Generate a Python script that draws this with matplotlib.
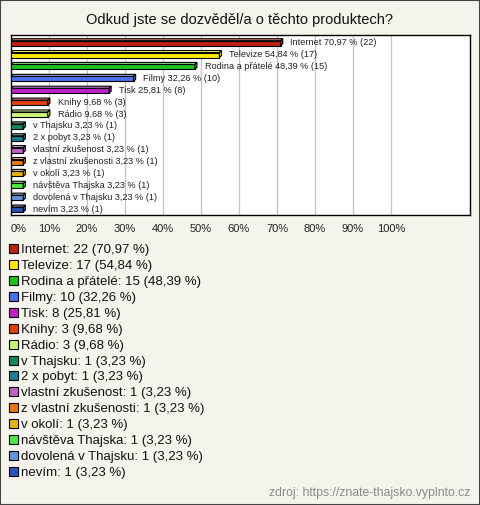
import numpy as np
import matplotlib
matplotlib.use('Agg')
import matplotlib.pyplot as plt
from matplotlib.patches import Polygon, Rectangle
from matplotlib.colors import to_rgb

categories = ['Internet', 'Televize', 'Rodina a přátelé', 'Filmy', 'Tisk', 'Knihy', 'Rádio',
              'v Thajsku', '2 x pobyt', 'vlastní zkušenost', 'z vlastní zkušenosti', 'v okolí',
              'návštěva Thajska', 'dovolená v Thajsku', 'nevím']
counts = [22, 17, 15, 10, 8, 3, 3, 1, 1, 1, 1, 1, 1, 1, 1]
percents = [70.97, 54.84, 48.39, 32.26, 25.81, 9.68, 9.68, 3.23, 3.23, 3.23, 3.23, 3.23, 3.23, 3.23, 3.23]
colors = ['#c0200f', '#ffe800', '#1ec21e', '#4a70f0', '#c020c8', '#e0400a', '#c8f87a',
          '#118a58', '#1a7f90', '#c060c8', '#e87810', '#e8b010', '#50e83c', '#6890e0', '#2e50b8']
tick_values = list(range(0, 101, 10))

W, H = 480, 505
BG = '#f4f3ec'

plt.rcParams['font.family'] = ['Liberation Sans', 'DejaVu Sans']


def fx(px):
    return px / W


def fy(py):
    return 1 - py / H


def fmt(v):
    return ('%.2f' % v).replace('.', ',')


def lighten(c, amt=0.45):
    r, g, b = to_rgb(c)
    return (r + (1 - r) * amt, g + (1 - g) * amt, b + (1 - b) * amt)


fig = plt.figure(figsize=(W / 100, H / 100), dpi=100, facecolor=BG)
ax = fig.add_axes([fx(11), fy(215), (470 - 11) / W, 180 / H])
ax.set_facecolor('white')

n = len(categories)
rows = np.arange(n)
dx, dy = 0.55, 0.17
top, bot = -0.12, 0.30

ax.barh(rows + (top + bot) / 2, percents, height=bot - top, color=colors,
        edgecolor='black', linewidth=0.8, zorder=3)
for i, (v, c) in enumerate(zip(percents, colors)):
    face = Polygon([(0, i + top), (dx, i + top - dy), (v + dx, i + top - dy), (v, i + top)],
                   closed=True, facecolor=lighten(c), edgecolor='black', linewidth=0.8, zorder=3)
    side = Polygon([(v, i + top), (v + dx, i + top - dy), (v + dx, i + bot - dy), (v, i + bot)],
                   closed=True, facecolor=c, edgecolor='black', linewidth=0.8, zorder=3)
    ax.add_patch(face)
    ax.add_patch(side)
    ax.annotate('%s %s %% (%d)' % (categories[i], fmt(v), counts[i]), xy=(v, i + 0.05),
                xytext=(7, 0), textcoords='offset points', va='center', ha='left',
                fontsize=6.6, color='#222222', zorder=4)

ax.set_xlim(0, 120.8)
ax.set_ylim(n - 1 + 0.55, -0.6)
ax.set_yticks([])
ax.set_xticks(tick_values)
ax.set_xticklabels(['%d%%' % t for t in tick_values], fontsize=8, color='#222222')
ax.get_xticklabels()[0].set_horizontalalignment('left')
ax.tick_params(axis='x', length=0, pad=6.5)
ax.grid(axis='x', color='#c4c4c4', linewidth=0.9, zorder=0)
for s in ax.spines.values():
    s.set_color('black')
    s.set_linewidth(1)

fig.text(0.5, fy(20), 'Odkud jste se dozvěděl/a o těchto produktech?', ha='center', va='center',
         fontsize=10.5, color='#111111')

# legend below the chart
for i, (cat, cnt, p, c) in enumerate(zip(categories, counts, percents, colors)):
    yc = 250 + i * 15.93
    fig.add_artist(Rectangle((fx(9), fy(yc + 3)), 9 / W, 9 / H, transform=fig.transFigure,
                             facecolor=c, edgecolor='black', linewidth=0.8))
    fig.text(fx(21), fy(yc), '%s: %d (%s %%)' % (cat, cnt, fmt(p)), ha='left', va='center',
             fontsize=9.5, color='#111111')

fig.text(fx(470), fy(493), 'zdroj: https://znate-thajsko.vyplnto.cz', ha='right', va='center',
         fontsize=8.8, color='#8a8a8a')

fig.add_artist(Rectangle((0, 0), 1, 1, transform=fig.transFigure, fill=False,
                         edgecolor='#444444', linewidth=1.5))

fig.savefig('out.png', dpi=100, facecolor=BG)
